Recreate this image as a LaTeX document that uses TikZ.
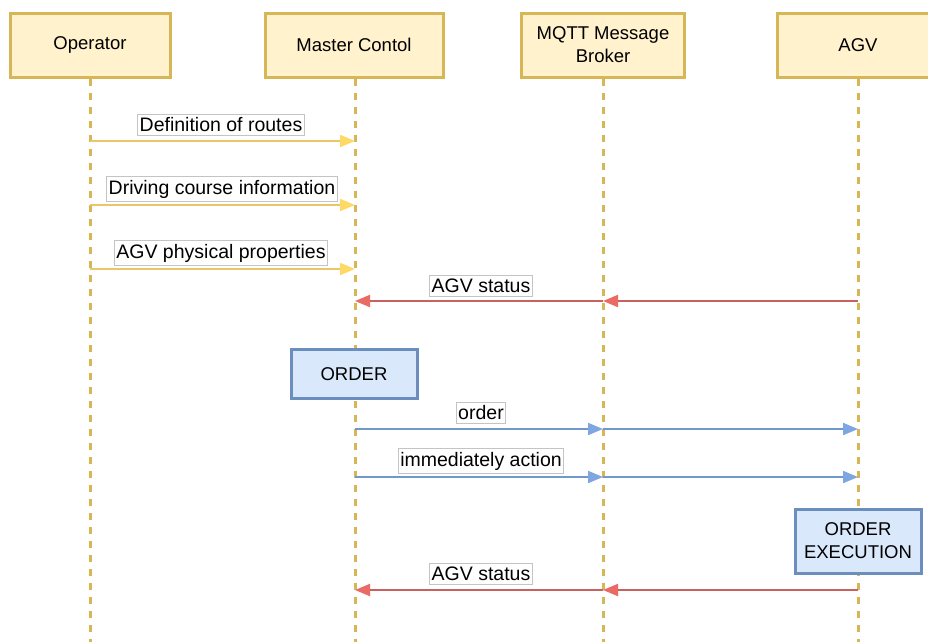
\documentclass[tikz,border=0pt]{standalone}
\usepackage{fontspec}
\setmainfont{Liberation Sans}
\usetikzlibrary{arrows.meta}
\definecolor{hdrfill}{HTML}{FFF2CC}
\definecolor{hdrline}{HTML}{D6B656}
\definecolor{actfill}{HTML}{DAE8FC}
\definecolor{actline}{HTML}{6C8EBF}
\definecolor{yelhead}{HTML}{FFD966}
\definecolor{yelline}{HTML}{EBC669}
\definecolor{redhead}{HTML}{EA6B66}
\definecolor{redline}{HTML}{C9625E}
\definecolor{bluhead}{HTML}{7EA6E0}
\definecolor{bluline}{HTML}{7297CC}
\definecolor{lblline}{HTML}{C4C4C4}
\tikzset{
  x=1pt, y=-1pt,
  header/.style={draw=hdrline, fill=hdrfill, line width=3pt, minimum width=160pt,
    minimum height=64pt, align=center, font=\fontsize{18.5}{23}\selectfont, inner sep=0pt},
  activity/.style={draw=actline, fill=actfill, line width=3pt, minimum width=126pt,
    align=center, font=\fontsize{18.5}{23}\selectfont, inner sep=0pt},
  lifeline/.style={draw=hdrline, line width=3pt, dash pattern=on 7pt off 7pt},
  msg/.style={line width=2pt},
  yelmsg/.style={msg, draw=yelline, -{Triangle[length=15pt,width=12pt,color=yelhead]}},
  redmsg/.style={msg, draw=redline, -{Triangle[length=15pt,width=12pt,color=redhead]}},
  blumsg/.style={msg, draw=bluline, -{Triangle[length=15pt,width=12pt,color=bluhead]}},
  lbl/.style={draw=lblline, fill=white, line width=1pt, inner xsep=2pt, inner ysep=3.5pt,
    font=\fontsize{19.5}{22}\selectfont}
}
\begin{document}
\begin{tikzpicture}
\useasboundingbox (0,0) rectangle (928,641);

% participant headers
\node[header] (op) at (90,45) {Operator};
\node[header, minimum width=178pt] (mc) at (354,45) {Master Contol};
\node[header, minimum width=163pt] (mq) at (603,45) {MQTT Message\\Broker};
\node[header, minimum width=161pt] (agv) at (858,45) {AGV};

% lifeline ends
\coordinate (opE) at (90,645);
\coordinate (mcE) at (355,645);
\coordinate (mqE) at (603,645);
\coordinate (agvE) at (858,645);

\draw[lifeline] (op.south) -- (opE);
\draw[lifeline] (mc.south -| mcE) -- (mcE);
\draw[lifeline] (mq.south) -- (mqE);
\draw[lifeline] (agv.south) -- (agvE);

% message anchor points on the lifelines
\foreach \y/\n in {141/a, 205/b, 269/c} {
  \coordinate (op\n) at (90,\y);
  \coordinate (mc\n) at (355,\y);
}
\foreach \y/\n in {301/d, 429/e, 477/f, 590/g} {
  \coordinate (mc\n) at (355,\y);
  \coordinate (mq\n) at (603,\y);
  \coordinate (agv\n) at (858,\y);
}

% operator -> master control
\draw[yelmsg] (opa) -- (mca);
\draw[yelmsg] (opb) -- (mcb);
\draw[yelmsg] (opc) -- (mcc);
\node[lbl] (la) at (221,125) {Definition of routes};
\node[lbl] (lb) at (222,189) {Driving course information};
\node[lbl] (lc) at (221,253) {AGV physical properties};

% AGV status
\draw[redmsg] (agvd) -- (mqd);
\draw[redmsg] (mqd) -- (mcd);
\node[lbl] (ld) at (481,286) {AGV status};

% ORDER activity
\node[activity, minimum height=49pt] (order) at (354,374) {ORDER};

% order, immediate action
\draw[blumsg] (mce) -- (mqe);
\draw[blumsg] (mqe) -- (agve);
\node[lbl] (le) at (481,413) {order};
\draw[blumsg] (mcf) -- (mqf);
\draw[blumsg] (mqf) -- (agvf);
\node[lbl] (lf) at (481,461) {immediately action};

% ORDER EXECUTION activity
\node[activity, minimum height=64pt] (exec) at (858,541) {ORDER\\EXECUTION};

% final AGV status
\draw[redmsg] (agvg) -- (mqg);
\draw[redmsg] (mqg) -- (mcg);
\node[lbl] (lg) at (481,574) {AGV status};
\end{tikzpicture}
\end{document}
